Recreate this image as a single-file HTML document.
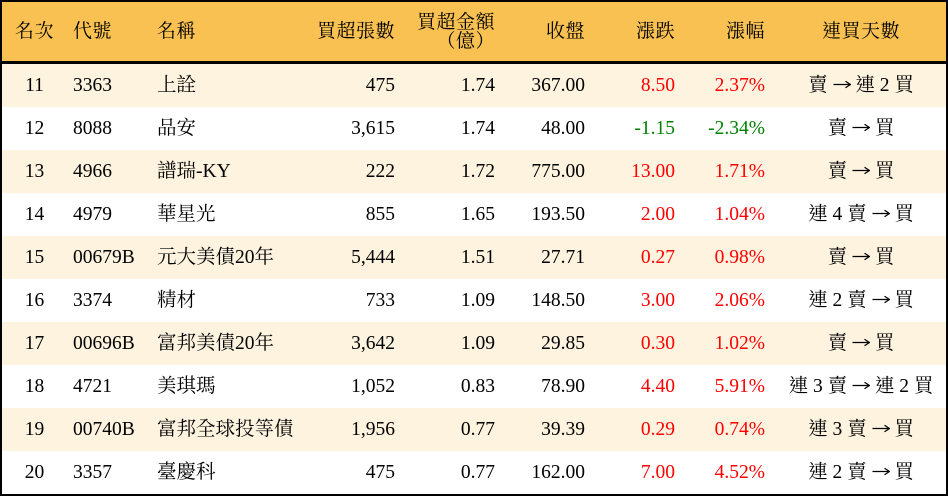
<!DOCTYPE html>
<html><head><meta charset="utf-8">
<style>
*{margin:0;padding:0;box-sizing:border-box}
html,body{width:948px;height:496px;overflow:hidden;background:#fff}
body{position:relative;font-family:"Liberation Serif","Noto Serif CJK TC","Noto Serif CJK SC",serif;font-size:19.5px;color:#000}
.frame{position:absolute;left:0;top:0;width:948px;height:496px;border:2px solid #000;}
.hdr{position:absolute;left:2px;top:2px;width:944px;height:59px;background:#F9C152}
.hline{position:absolute;left:0;top:61px;width:948px;height:3px;background:#000}
.r{position:absolute;left:2px;width:944px;height:43px;line-height:43px;white-space:nowrap}
.c{background:#FDF3DF}
.w{background:#fff}
.r div,.hdr div{position:absolute;top:0;white-space:nowrap}
.hdr div{line-height:59px}
.k{font-size:19px;letter-spacing:0.5px}
.a{left:-2px;width:69px;text-align:center}
.b{left:71px}
.n{left:155px}
.d{right:551px;text-align:right}
.e{right:451px;text-align:right}
.f{right:361px;text-align:right}
.g{right:271px;text-align:right}
.h{right:181px;text-align:right}
.i{left:779px;width:160px;text-align:center}
.red{color:#ff0000}
.grn{color:#008000}
.hdr .two{line-height:19px;top:10.5px;text-align:right}
svg.ar{display:inline-block;vertical-align:2px;width:18px;height:9px}
</style></head><body>
<svg width="0" height="0" style="position:absolute">
  <defs>
    <symbol id="arr" viewBox="0 0 18 9">
      <path d="M0.5 4.5H17" stroke="#000" stroke-width="1.3" fill="none"/>
      <path d="M12.5 1.2 L17.5 4.5 L12.5 7.8" stroke="#000" stroke-width="1.2" fill="none"/>
    </symbol>
  </defs>
</svg>
<div class="hdr">
  <div class="a k">名次</div>
  <div class="b k">代號</div>
  <div class="n k">名稱</div>
  <div class="d k">買超張數</div>
  <div class="e k two">買超金額<br>（億）</div>
  <div class="f k">收盤</div>
  <div class="g k">漲跌</div>
  <div class="h k">漲幅</div>
  <div class="i k">連買天數</div>
</div>

<div class="r c" style="top:64px"><div class="a">11</div><div class="b">3363</div><div class="n">上詮</div><div class="d">475</div><div class="e">1.74</div><div class="f">367.00</div><div class="g red">8.50</div><div class="h red">2.37%</div><div class="i">賣 <svg class="ar"><use href="#arr"/></svg> 連 2 買</div></div>
<div class="r w" style="top:107px"><div class="a">12</div><div class="b">8088</div><div class="n">品安</div><div class="d">3,615</div><div class="e">1.74</div><div class="f">48.00</div><div class="g grn">-1.15</div><div class="h grn">-2.34%</div><div class="i">賣 <svg class="ar"><use href="#arr"/></svg> 買</div></div>
<div class="r c" style="top:150px"><div class="a">13</div><div class="b">4966</div><div class="n">譜瑞-KY</div><div class="d">222</div><div class="e">1.72</div><div class="f">775.00</div><div class="g red">13.00</div><div class="h red">1.71%</div><div class="i">賣 <svg class="ar"><use href="#arr"/></svg> 買</div></div>
<div class="r w" style="top:193px"><div class="a">14</div><div class="b">4979</div><div class="n">華星光</div><div class="d">855</div><div class="e">1.65</div><div class="f">193.50</div><div class="g red">2.00</div><div class="h red">1.04%</div><div class="i">連 4 賣 <svg class="ar"><use href="#arr"/></svg> 買</div></div>
<div class="r c" style="top:236px"><div class="a">15</div><div class="b">00679B</div><div class="n">元大美債20年</div><div class="d">5,444</div><div class="e">1.51</div><div class="f">27.71</div><div class="g red">0.27</div><div class="h red">0.98%</div><div class="i">賣 <svg class="ar"><use href="#arr"/></svg> 買</div></div>
<div class="r w" style="top:279px"><div class="a">16</div><div class="b">3374</div><div class="n">精材</div><div class="d">733</div><div class="e">1.09</div><div class="f">148.50</div><div class="g red">3.00</div><div class="h red">2.06%</div><div class="i">連 2 賣 <svg class="ar"><use href="#arr"/></svg> 買</div></div>
<div class="r c" style="top:322px"><div class="a">17</div><div class="b">00696B</div><div class="n">富邦美債20年</div><div class="d">3,642</div><div class="e">1.09</div><div class="f">29.85</div><div class="g red">0.30</div><div class="h red">1.02%</div><div class="i">賣 <svg class="ar"><use href="#arr"/></svg> 買</div></div>
<div class="r w" style="top:365px"><div class="a">18</div><div class="b">4721</div><div class="n">美琪瑪</div><div class="d">1,052</div><div class="e">0.83</div><div class="f">78.90</div><div class="g red">4.40</div><div class="h red">5.91%</div><div class="i">連 3 賣 <svg class="ar"><use href="#arr"/></svg> 連 2 買</div></div>
<div class="r c" style="top:408px"><div class="a">19</div><div class="b">00740B</div><div class="n">富邦全球投等債</div><div class="d">1,956</div><div class="e">0.77</div><div class="f">39.39</div><div class="g red">0.29</div><div class="h red">0.74%</div><div class="i">連 3 賣 <svg class="ar"><use href="#arr"/></svg> 買</div></div>
<div class="r w" style="top:451px"><div class="a">20</div><div class="b">3357</div><div class="n">臺慶科</div><div class="d">475</div><div class="e">0.77</div><div class="f">162.00</div><div class="g red">7.00</div><div class="h red">4.52%</div><div class="i">連 2 賣 <svg class="ar"><use href="#arr"/></svg> 買</div></div>

<div class="hline"></div>
<div class="frame"></div>
</body></html>
